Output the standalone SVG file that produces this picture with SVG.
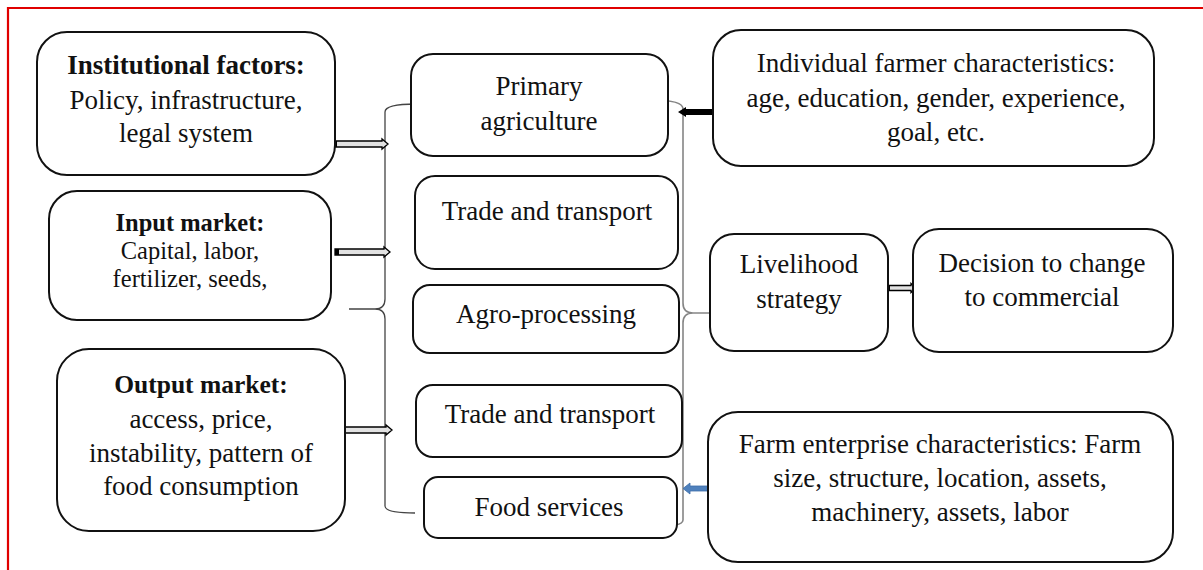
<svg xmlns="http://www.w3.org/2000/svg" width="1203" height="570" viewBox="0 0 1203 570">
  <style>
    .box { fill: #ffffff; stroke: #111111; stroke-width: 2; }
    .t { font-family: "Liberation Serif", "Times New Roman", serif; font-size: 27px; fill: #111111; text-anchor: middle; }
    .b { font-weight: bold; }
    .sm { font-size: 24.5px; }
    .brace-l { fill: none; stroke: #444444; stroke-width: 1.3; }
    .brace-r { fill: none; stroke: #858585; stroke-width: 1.6; }
    .hollow { fill: #e2e2e2; stroke: #000000; stroke-width: 1.3; stroke-linejoin: miter; }
    .frame { stroke: #e00000; stroke-width: 2.2; fill: none; }
  </style>

  <rect width="1203" height="570" fill="#ffffff"/>

  <!-- page frame -->
  <path class="frame" d="M 8 570 V 8 H 1203"/>

  <!-- connectors -->
  <g id="connectors">
    <!-- left brace gathering the value-chain stages -->
    <path class="brace-l" d="M 416 104 Q 385 104 385 112 V 299 Q 385 309 375 309 L 349 309 M 375 309 Q 385 309 385 319 V 506 Q 385 513 415 513"/>
    <!-- right brace leading to livelihood strategy -->
    <path class="brace-r" d="M 652 100 Q 683 100 683 109 V 303 Q 683 313 693 313 L 719 313 M 693 313 Q 683 313 683 323 V 520 Q 683 527 652 527"/>

    <!-- hollow block arrows -->
    <path class="hollow" d="M 333 141 H 382 V 139 L 388 144 L 382 149 V 147 H 333 Z"/>
    <rect x="333" y="141" width="4" height="6" fill="#000"/>
    <path class="hollow" d="M 335 249 H 384 V 247 L 390 252 L 384 257 V 255 H 335 Z"/>
    <rect x="335" y="249" width="4" height="6" fill="#000"/>
    <path class="hollow" d="M 337 427 H 386 V 425 L 392 430 L 386 435 V 433 H 337 Z"/>
    <rect x="337" y="427" width="5" height="6" fill="#000"/>
    <path class="hollow" d="M 884 285.5 H 911 V 283.5 L 916 288 L 911 292.5 V 290.5 H 884 Z"/>
    <rect x="884" y="285.5" width="6" height="5" fill="#000"/>

    <!-- individual characteristics feed into the chain -->
    <path d="M 713 109 H 686 V 107 L 678 112 L 686 117 V 115 H 713 Z" fill="#000"/>
    <!-- farm enterprise characteristics feed into the chain -->
    <path d="M 708 486 H 690 V 483 L 683 488.5 L 690 494 V 491 H 708 Z" fill="#4f81bd" stroke="#3c6da8" stroke-width="0.8"/>
  </g>

  <!-- left column: external factors -->
  <g id="institutional">
    <rect class="box" x="37" y="32" width="298" height="143" rx="30"/>
    <text class="t b" x="186" y="74">Institutional factors:</text>
    <text class="t" x="186" y="109">Policy, infrastructure,</text>
    <text class="t" x="186" y="142">legal system</text>
  </g>

  <g id="input-market">
    <rect class="box" x="49" y="191" width="282" height="129" rx="28"/>
    <text class="t sm b" x="190" y="231">Input market:</text>
    <text class="t sm" x="190" y="259">Capital, labor,</text>
    <text class="t sm" x="190" y="287">fertilizer, seeds,</text>
  </g>

  <g id="output-market">
    <rect class="box" x="57" y="349" width="288" height="182" rx="32"/>
    <text class="t b" x="201" y="393" style="font-size:25.5px">Output market:</text>
    <text class="t" x="201" y="428">access, price,</text>
    <text class="t" x="201" y="462">instability, pattern of</text>
    <text class="t" x="201" y="495">food consumption</text>
  </g>

  <!-- middle column: value-chain stages -->
  <g id="primary-agriculture">
    <rect class="box" x="411" y="54" width="257" height="102" rx="22"/>
    <text class="t" x="539" y="95">Primary</text>
    <text class="t" x="539" y="130">agriculture</text>
  </g>

  <g id="trade-transport-1">
    <rect class="box" x="415" y="176" width="263" height="93" rx="20"/>
    <text class="t" x="547" y="220">Trade and transport</text>
  </g>

  <g id="agro-processing">
    <rect class="box" x="413" y="285" width="266" height="68" rx="17"/>
    <text class="t" x="546" y="323">Agro-processing</text>
  </g>

  <g id="trade-transport-2">
    <rect class="box" x="416" y="385" width="266" height="72" rx="17"/>
    <text class="t" x="550" y="423">Trade and transport</text>
  </g>

  <g id="food-services">
    <rect class="box" x="424" y="477" width="253" height="61" rx="14"/>
    <text class="t" x="549" y="516">Food services</text>
  </g>

  <!-- right column -->
  <g id="individual-farmer">
    <rect class="box" x="713" y="30" width="441" height="136" rx="28"/>
    <text class="t" x="936" y="72">Individual farmer characteristics:</text>
    <text class="t" x="936" y="107">age, education, gender, experience,</text>
    <text class="t" x="936" y="141">goal, etc.</text>
  </g>

  <g id="livelihood-strategy">
    <rect class="box" x="710" y="234" width="178" height="117" rx="24"/>
    <text class="t" x="799" y="273">Livelihood</text>
    <text class="t" x="799" y="308">strategy</text>
  </g>

  <g id="decision">
    <rect class="box" x="913" y="229" width="260" height="123" rx="26"/>
    <text class="t" x="1042" y="272">Decision to change</text>
    <text class="t" x="1042" y="306">to commercial</text>
  </g>

  <g id="farm-enterprise">
    <rect class="box" x="708" y="412" width="465" height="150" rx="30"/>
    <text class="t" x="940" y="453">Farm enterprise characteristics: Farm</text>
    <text class="t" x="940" y="487">size, structure, location, assets,</text>
    <text class="t" x="940" y="521">machinery, assets, labor</text>
  </g>
</svg>
